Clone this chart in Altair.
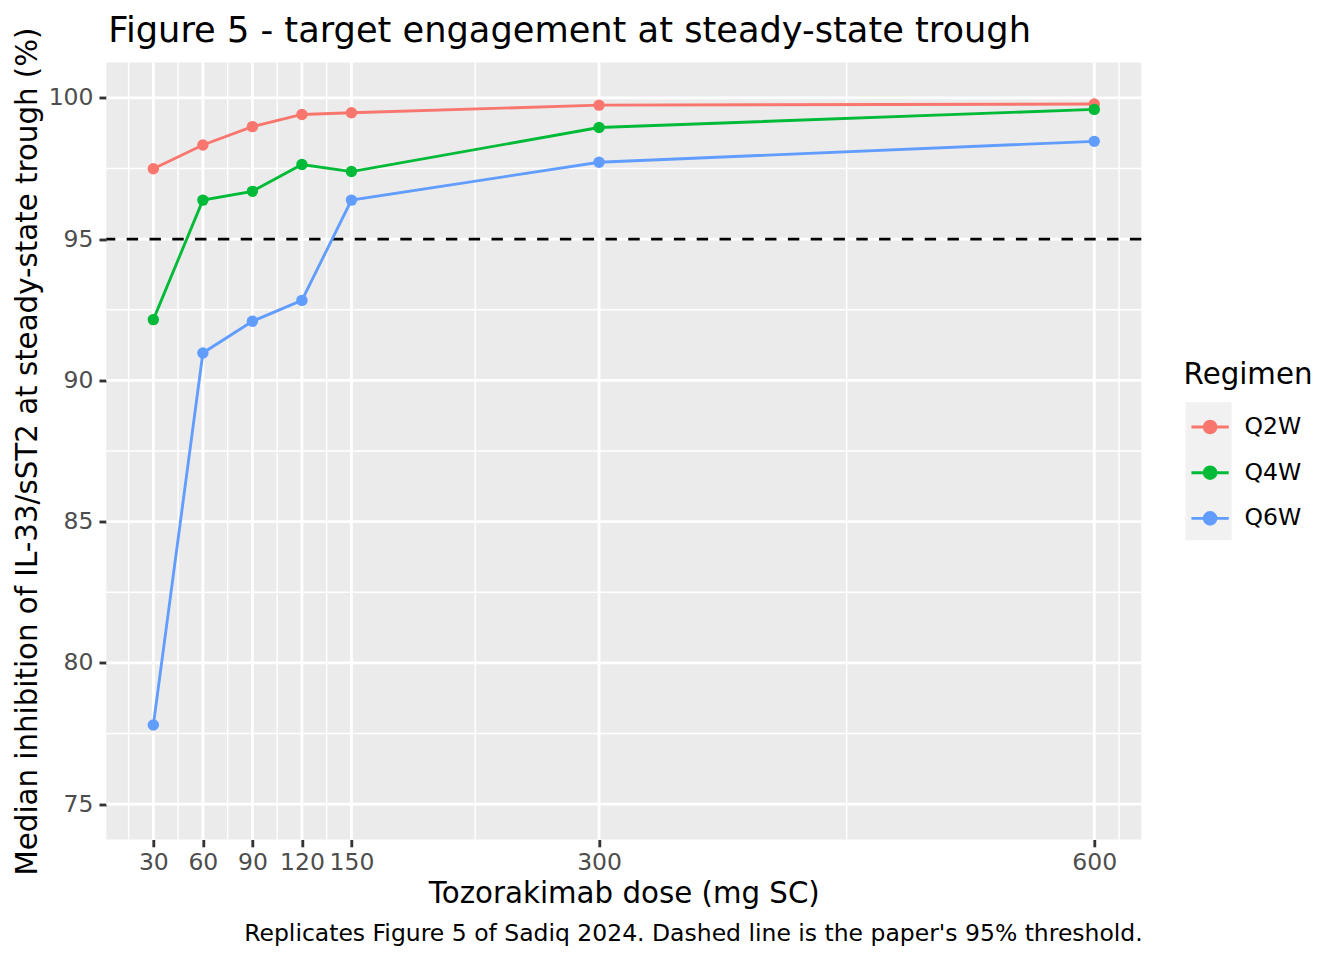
import altair as alt
import pandas as pd

# values
doses = [30, 60, 90, 120, 150, 300, 600]
regimens = ["Q2W", "Q4W", "Q6W"]
q2w = [97.49, 98.33, 98.98, 99.41, 99.47, 99.74, 99.78]
q4w = [92.15, 96.38, 96.69, 97.64, 97.39, 98.95, 99.59]
q6w = [77.80, 90.97, 92.09, 92.83, 96.38, 97.72, 98.46]
threshold = [95]

x_major = [30, 60, 90, 120, 150, 300, 600]
x_minor = [15, 45, 75, 105, 135, 225, 450, 615]
y_major = [75, 80, 85, 90, 95, 100]
y_minor = [77.5, 82.5, 87.5, 92.5, 97.5]

palette = ["#F8766D", "#00BA38", "#619CFF"]

df = pd.DataFrame({
    "dose": doses * 3,
    "inhib": q2w + q4w + q6w,
    "Regimen": [r for r in regimens for _ in doses],
})
df["key"] = df["Regimen"]

x_scale = alt.Scale(domain=[1.5, 628.5], nice=False, zero=False)
y_scale = alt.Scale(domain=[73.75, 101.25], nice=False, zero=False)

x_axis = alt.Axis(
    values=x_major, title="Tozorakimab dose (mg SC)", grid=False, domain=False,
    tickColor="#333333", tickWidth=2.85, tickSize=7.3, labelColor="#4D4D4D",
    labelFontSize=23.5, labelPadding=4, labelOverlap=False, labelFlush=False,
    titleFontSize=29.3, titleFontWeight="normal", titleColor="black",
    titleBaseline="alphabetic", titleY=63,
)
y_axis = alt.Axis(
    values=y_major, title="Median inhibition of IL-33/sST2 at steady-state trough (%)",
    grid=False, domain=False, tickColor="#333333", tickWidth=2.85, tickSize=7.3,
    labelColor="#4D4D4D", labelFontSize=23.5, labelPadding=6, labelOverlap=False,
    labelFlush=False, titleFontSize=29.3, titleFontWeight="normal", titleColor="black",
    titleBaseline="alphabetic", titleX=-70,
)

minor_x = alt.Chart(pd.DataFrame({"v": x_minor})).mark_rule(color="white", strokeWidth=1.42).encode(
    x=alt.X("v:Q", scale=x_scale, axis=x_axis))
minor_y = alt.Chart(pd.DataFrame({"v": y_minor})).mark_rule(color="white", strokeWidth=1.42).encode(
    y=alt.Y("v:Q", scale=y_scale, axis=y_axis))
major_x = alt.Chart(pd.DataFrame({"v": x_major})).mark_rule(color="white", strokeWidth=2.85).encode(
    x=alt.X("v:Q", scale=x_scale, axis=x_axis))
major_y = alt.Chart(pd.DataFrame({"v": y_major})).mark_rule(color="white", strokeWidth=2.85).encode(
    y=alt.Y("v:Q", scale=y_scale, axis=y_axis))

hline = alt.Chart(pd.DataFrame({"v": threshold})).mark_rule(
    color="black", strokeWidth=2.85, strokeDash=[11.4, 11.4]).encode(
    y=alt.Y("v:Q", scale=y_scale, axis=y_axis))

color = alt.Color(
    "Regimen:N", scale=alt.Scale(domain=regimens, range=palette),
    legend=alt.Legend(
        title="Regimen", orient="none", legendX=1077.3, legendY=298, zindex=1,
        symbolType="M-1,0L1,0M0.314,0A0.314,0.314,0,1,1,-0.314,0A0.314,0.314,0,1,1,0.314,0Z",
        symbolSize=1391, symbolStrokeWidth=2.85, symbolOffset=6, labelOffset=14,
        titleFontSize=29.3, titleFontWeight="normal", titleColor="black", titlePadding=16.7,
        labelFontSize=23.5, labelColor="black", rowPadding=12.7, padding=0,
    ),
)

lines = alt.Chart(df).mark_line(strokeWidth=2.85).encode(
    x=alt.X("dose:Q", scale=x_scale, axis=x_axis),
    y=alt.Y("inhib:Q", scale=y_scale, axis=y_axis),
    color=color,
)
points = alt.Chart(df).mark_circle(size=130, opacity=1).encode(
    x=alt.X("dose:Q", scale=x_scale, axis=x_axis),
    y=alt.Y("inhib:Q", scale=y_scale, axis=y_axis),
    color=color,
)
# grey background of the legend keys
keys = alt.Chart(df).mark_square(size=0).encode(
    x=alt.X("dose:Q", scale=x_scale, axis=x_axis),
    y=alt.Y("inhib:Q", scale=y_scale, axis=y_axis),
    fill=alt.Fill("key:N", scale=alt.Scale(range=["#EBEBEB"]),
                  legend=alt.Legend(title=None, orient="none", legendX=1079.3, legendY=339.7,
                                    zindex=0, symbolType="square", symbolSize=2116,
                                    symbolStrokeWidth=0, rowPadding=0, padding=0,
                                    labelExpr="''", labelFontSize=10)),
)

panel = alt.layer(minor_x, minor_y, major_x, major_y, hline, lines, points, keys).properties(
    width=1035, height=777,
    title=alt.Title("Replicates Figure 5 of Sadiq 2024. Dashed line is the paper's 95% threshold.",
                    orient="bottom", anchor="end", fontSize=23.5, fontWeight="normal",
                    color="black", baseline="alphabetic", offset=32),
)

chart = alt.vconcat(panel).properties(
    title=alt.Title("Figure 5 - target engagement at steady-state trough", anchor="start",
                    fontSize=35.2, fontWeight="normal", color="black", baseline="alphabetic",
                    offset=-50.5, dx=2, frame="group"),
    padding={"left": 4.3, "top": 5.5, "right": 5, "bottom": 5},
).configure(font="DejaVu Sans").configure_view(fill="#EBEBEB", stroke=None)

chart.save("out.html", embed_options={"renderer": "svg", "actions": False})
